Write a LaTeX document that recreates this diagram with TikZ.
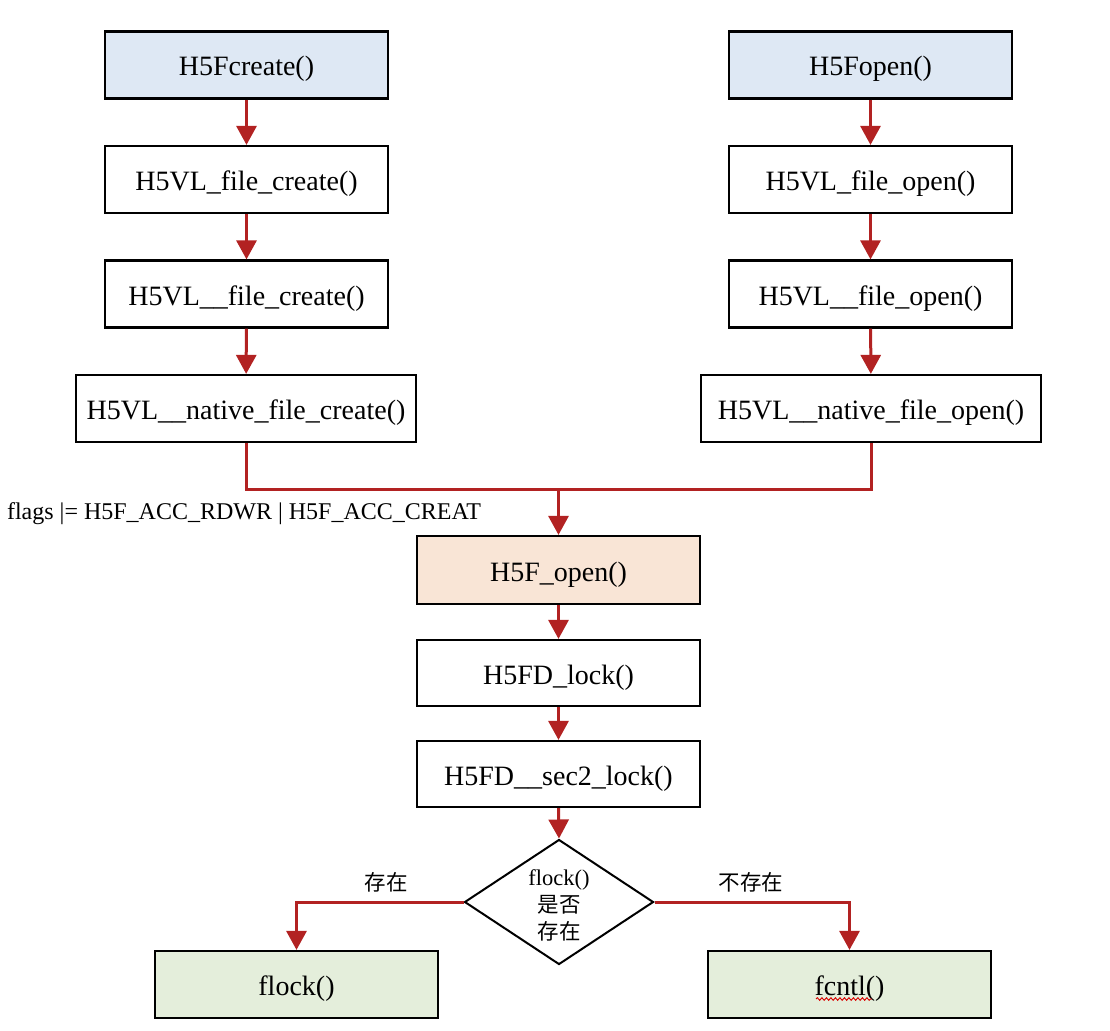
\documentclass[tikz,border=0pt]{standalone}
\usepackage{fontspec}
\setmainfont{Liberation Serif}
\newfontfamily\cjk{Noto Sans CJK SC}
\usetikzlibrary{arrows.meta,shapes.geometric,decorations.pathmorphing}
\definecolor{arrred}{RGB}{178,34,34}
\definecolor{fillblue}{RGB}{222,232,244}
\definecolor{fillpeach}{RGB}{249,229,214}
\definecolor{fillgreen}{RGB}{228,238,219}
\tikzset{
  fbox/.style={draw=black, line width=2.2pt, rectangle, minimum width=283pt, minimum height=67pt, inner sep=0pt, text height=28pt, text depth=6pt, font=\fontsize{28}{30}\selectfont},
  widebox/.style={fbox, minimum width=340pt},
  decision/.style={draw=black, line width=2pt, diamond, minimum width=189pt, minimum height=125pt, inner sep=0pt},
  conn/.style={draw=arrred, line width=3pt},
  arr/.style={conn, -{Triangle[width=20pt,length=19pt]}},
  lbl/.style={font=\fontsize{24}{26}\selectfont, inner sep=0pt},
  cjklbl/.style={font=\cjk\fontsize{21.5}{23}\selectfont, inner sep=0pt}
}
\begin{document}
\begin{tikzpicture}[x=1pt,y=-1pt]
\useasboundingbox (0,0) rectangle (1110,1030);
% left column
\node[fbox, fill=fillblue] (c1) at (246.5,65) {H5Fcreate()};
\node[fbox] (c2) at (246.5,179.5) {H5VL\_file\_create()};
\node[fbox] (c3) at (246.5,294) {H5VL\_\_file\_create()};
\node[widebox] (c4) at (246,408.5) {H5VL\_\_native\_file\_create()};
% right column
\node[fbox, fill=fillblue] (o1) at (870.5,65) {H5Fopen()};
\node[fbox] (o2) at (870.5,179.5) {H5VL\_file\_open()};
\node[fbox] (o3) at (870.5,294) {H5VL\_\_file\_open()};
\node[widebox] (o4) at (871,408.5) {H5VL\_\_native\_file\_open()};
% center
\coordinate (m) at (558.5,489);
\node[lbl] (flags) at (244,514) {flags |= H5F\_ACC\_RDWR | H5F\_ACC\_CREAT};
\node[fbox, fill=fillpeach, minimum height=68pt] (h5f) at (558.5,570) {H5F\_open()};
\node[fbox, minimum height=66pt] (lock) at (558.5,673) {H5FD\_lock()};
\node[fbox, minimum height=66pt] (sec2) at (558.5,774) {H5FD\_\_sec2\_lock()};
\node[decision] (d) at (559,902) {};
\node[align=center, inner sep=0pt, font=\fontsize{22.5}{27}\selectfont] (dt) at (559,905) {flock()\\{\cjk\fontsize{21.5}{27}\selectfont 是否}\\{\cjk\fontsize{21.5}{27}\selectfont 存在}};
\node[fbox, fill=fillgreen] (fl) at (296.5,984.5) {flock()};
\node[fbox, fill=fillgreen] (fc) at (849.5,984.5) {fcntl()};
\node[cjklbl] (yes) at (386,882) {存在};
\node[cjklbl] (no) at (751,882) {不存在};
% connectors
\draw[arr] (c1) -- (c2);
\draw[arr] (c2) -- (c3);
\draw[arr] (c3) -- (c4);
\draw[arr] (o1) -- (o2);
\draw[arr] (o2) -- (o3);
\draw[arr] (o3) -- (o4);
\draw[conn] (c4.south) |- (m) -| (o4.south);
\draw[arr] (m) -- (h5f.north);
\draw[arr] (h5f) -- (lock);
\draw[arr] (lock) -- (sec2);
\draw[arr] (sec2.south) -- (d.north);
\draw[arr] (d.west) -| (fl.north);
\draw[arr] (d.east) -| (fc.north);
% spell-check underline
\draw[red!85!black, line width=0.9pt, decorate, decoration={snake, amplitude=1.3pt, segment length=4.5pt}] (816,999) -- (872,999);
\end{tikzpicture}
\end{document}
